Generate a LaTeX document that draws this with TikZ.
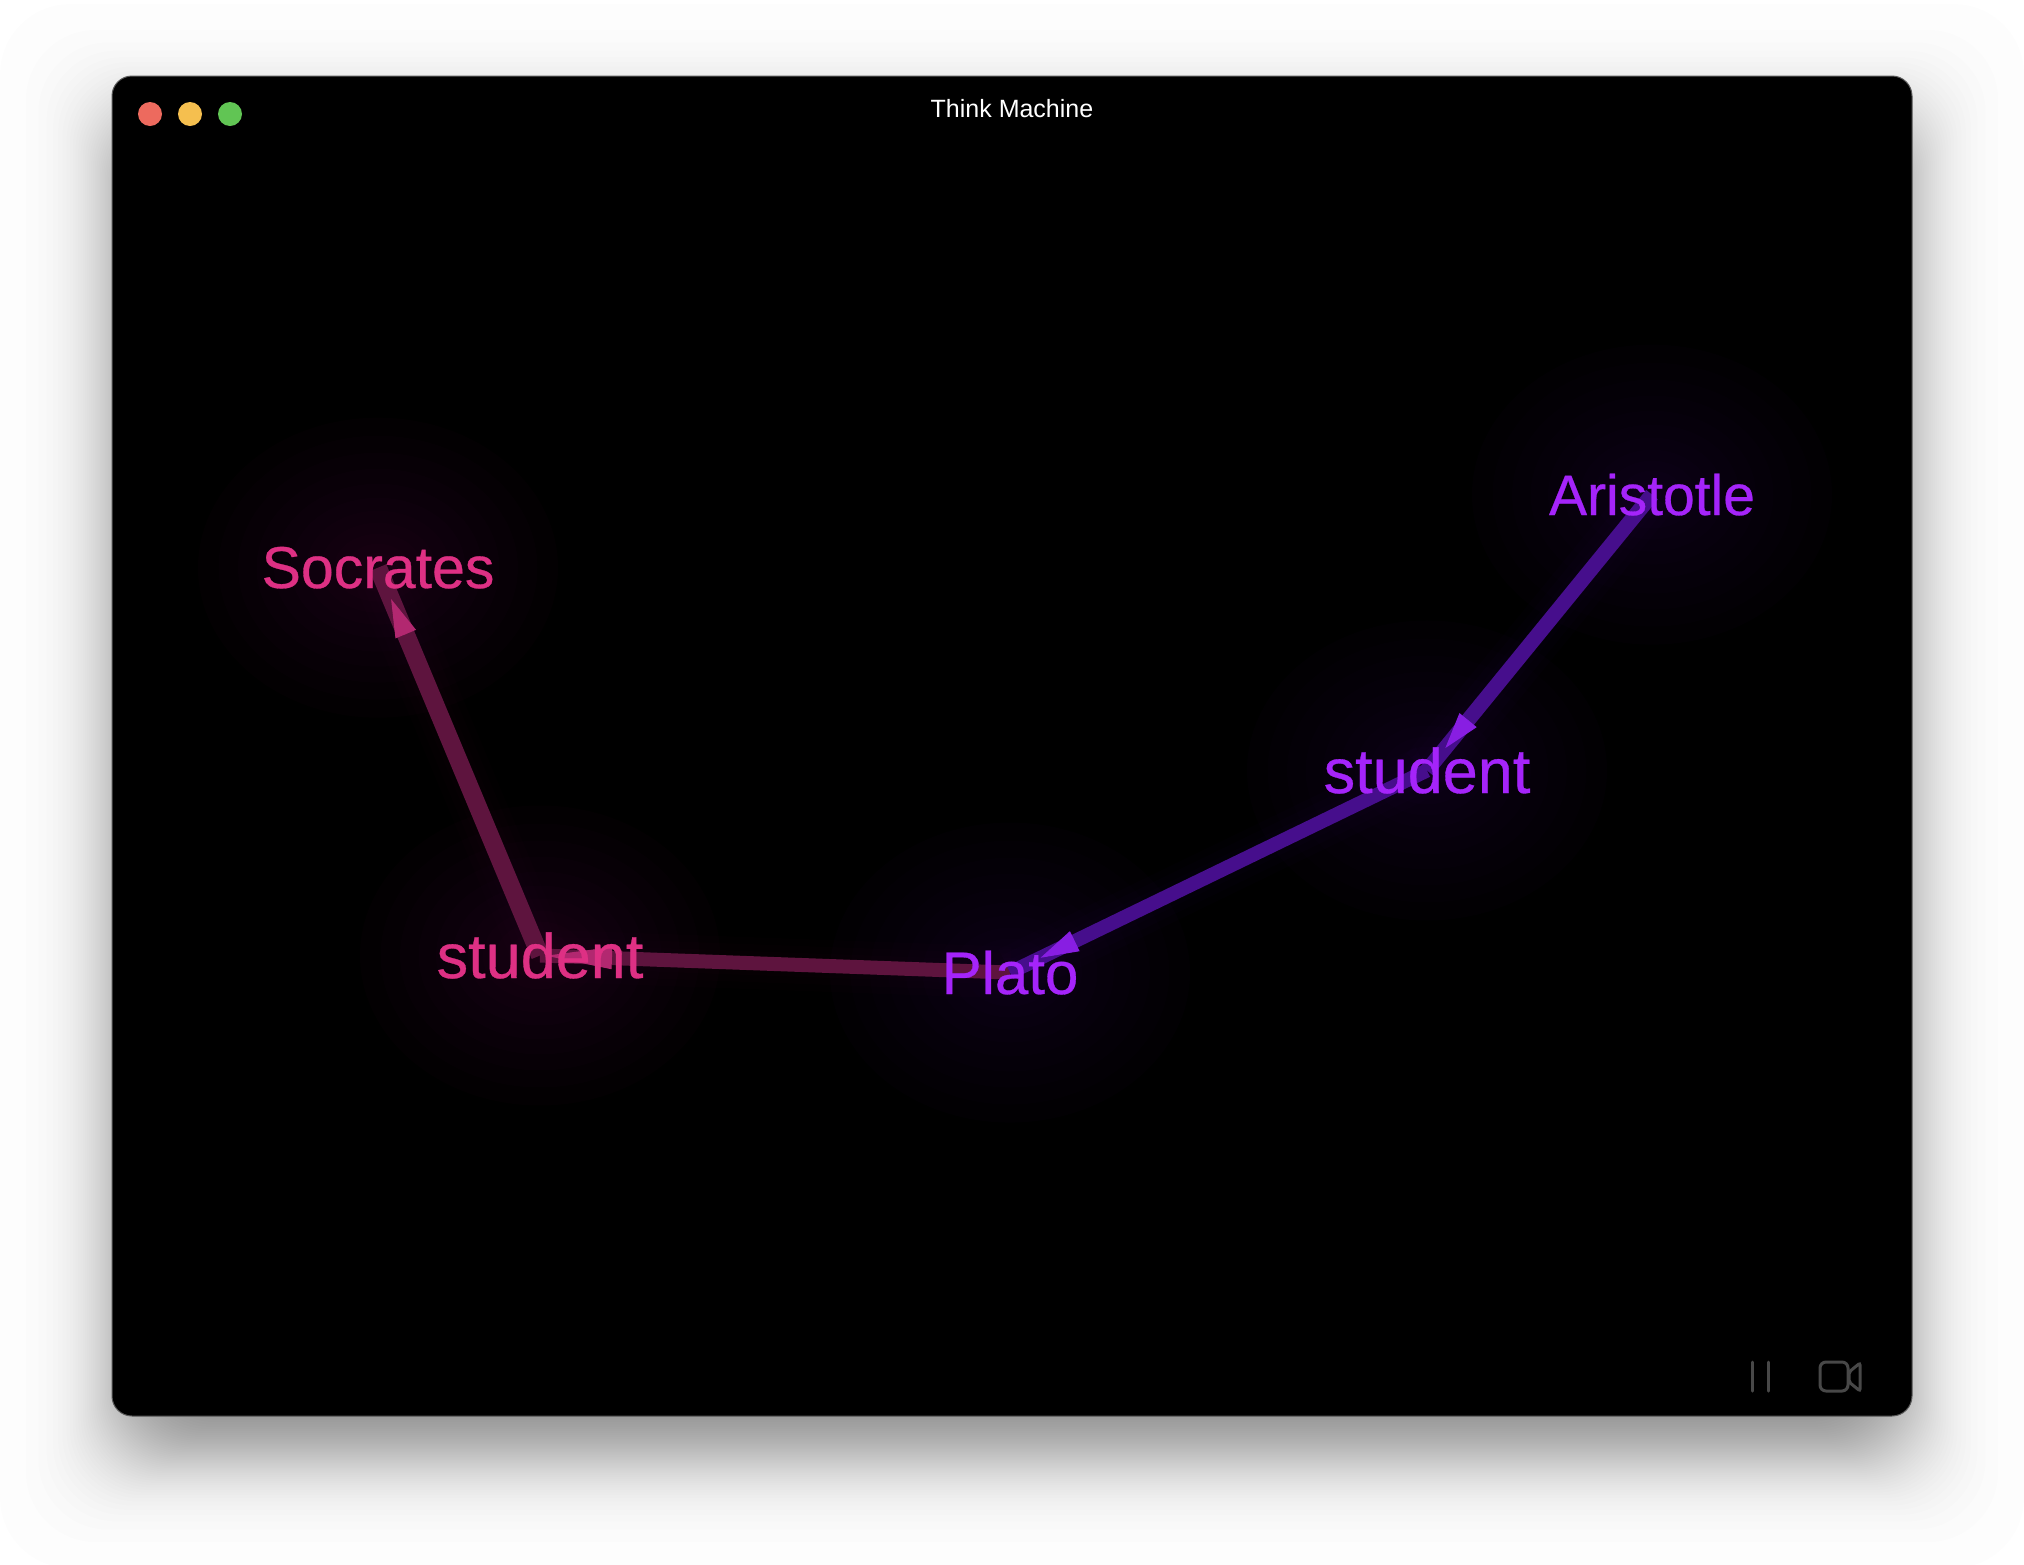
\documentclass[tikz,border=0pt]{standalone}
\usepackage{fontspec}
\setmainfont{Liberation Sans}
\newfontfamily\wordfont[FakeBold=0.5]{Liberation Sans}
\usetikzlibrary{positioning}
\usetikzlibrary{arrows.meta}
\usetikzlibrary{calc}

\definecolor{pinktext}{RGB}{222,48,132}
\definecolor{pinklink}{RGB}{94,20,62}
\definecolor{pinkhead}{RGB}{178,40,112}
\definecolor{pinkglow}{RGB}{255,0,180}
\definecolor{purpletext}{RGB}{165,36,250}
\definecolor{purplelink}{RGB}{70,14,140}
\definecolor{purplehead}{RGB}{136,30,226}
\definecolor{purpleglow}{RGB}{170,0,255}
\definecolor{iconcolor}{RGB}{72,72,72}

\pgfdeclarelayer{window}
\pgfsetlayers{window,main}

\tikzset{
	word/.style={inner sep=0pt, anchor=base, font=\fontsize{#1}{#1}\wordfont},
	lamp/.style={circle, inner sep=0pt, minimum size=24pt},
	headtip/.style={line width=1pt, -{Triangle[length=#1pt,width=22pt]}},
}

\begin{document}
\begin{tikzpicture}[x=1pt,y=-1pt]
	\useasboundingbox (0,0) rectangle (2024,1564);

	% words
	\node[word=59, pinktext] (socrates) at (378,588) {Socrates};
	\node[word=63, pinktext] (student1) at (540,978) {student};
	\node[word=60, purpletext] (plato) at (1010,994) {Plato};
	\node[word=63, purpletext] (student2) at (1427,793) {student};
	\node[word=57, purpletext] (aristotle) at (1652,515) {Aristotle};

	\begin{pgfonlayer}{window}
		\fill[white] (0,0) rectangle (2024,1564);

		% soft shadow under the window
		\foreach \i in {0,...,59}
			{\pgfmathsetmacro{\p}{(\i+0.5)/60}
			\pgfmathsetmacro{\d}{23.5*ln(\p/(1-\p))}
			\fill[black, opacity=0.0085, rounded corners=70pt] ({112+\d},{116+\d}) rectangle ({1912-\d},{1456-\d});}

		\fill[black, draw={rgb,255:red,90;green,90;blue,90}, line width=1pt, rounded corners=20pt] (112,76) rectangle (1912,1416);

		% glow
		\foreach \n/\c in {socrates/pinkglow, student1/pinkglow, plato/purpleglow, student2/purpleglow, aristotle/purpleglow}
			\foreach \k in {1,...,12}
				{\fill[\c, opacity=0.012] (\n.center) ellipse ({9*\k+\k*\k/2} and {6.5*\k+\k*\k/2});}

		% links and tips
		\foreach \a/\b/\c/\w in {student1/socrates/pinklink/18, plato/student1/pinklink/14, aristotle/student2/purplelink/15, student2/plato/purplelink/14}
			{\foreach \g in {10,24,38}
				{\draw[line width=\w pt+\g pt, \c, opacity=0.025] (\a.center) -- (\b.center);}
			\draw[line width=\w pt, \c] (\a.center) -- (\b.center);}
		\foreach \a/\b/\c/\l/\e/\s in {student1/socrates/pinkhead/38/34/72, plato/student1/pinkhead/66/6/72, aristotle/student2/purplehead/36/29/65, student2/plato/purplehead/38/34/72}
			{\draw[headtip=\l, \c] ($(\b.center)!\s pt!(\a.center)$) -- ($(\b.center)!\e pt!(\a.center)$);}
	\end{pgfonlayer}

	% title bar
	\node[lamp, fill={rgb,255:red,237;green,106;blue,94}] (closelamp) at (150,114) {};
	\node[lamp, fill={rgb,255:red,245;green,191;blue,79}] (minilamp) at (190,114) {};
	\node[lamp, fill={rgb,255:red,97;green,197;blue,84}] (zoomlamp) at (230,114) {};
	\node[white, inner sep=0pt, font=\fontsize{25}{25}\selectfont] (title) at (1012,109) {Think Machine};

	% pause and camera
	\draw[iconcolor, line width=3pt, line cap=round] (1752,1362) -- (1752,1391) (1768,1362) -- (1768,1391);
	\draw[iconcolor, line width=3pt, rounded corners=6pt] (1820,1362) rectangle (1848,1391);
	\draw[iconcolor, line width=3pt, rounded corners=2pt] (1849,1372) -- (1860,1363) -- (1860,1391) -- (1849,1382) -- cycle;
\end{tikzpicture}
\end{document}
